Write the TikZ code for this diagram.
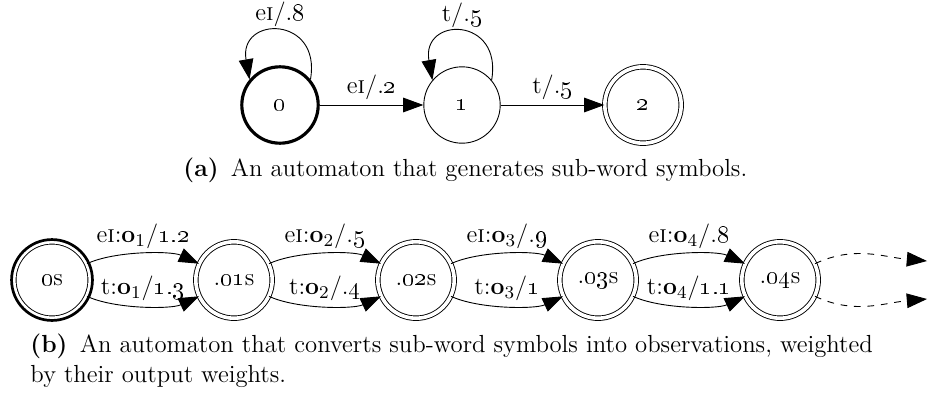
\documentclass[tikz,border=0pt]{standalone}
\usetikzlibrary{arrows.meta}
\begin{document}
\begin{tikzpicture}[x=0.445pt,y=0.445pt,font=\fontsize{11}{13}\selectfont]
        \tikzset{state node/.style={circle,draw=black, fill=none, minimum size=34pt, inner sep=0pt},
          accept node/.style={state node, double, double distance=1.6pt},
          trans/.style={-{Triangle[length=9pt,width=6.5pt]}},
          lbl/.style={above, inner sep=2pt}}
        \useasboundingbox (0,0) rectangle (934,400);
        % sub-word automaton
        \node[state node, line width=1.4pt] (q0) at (280,295) {\oldstylenums{0}};
        \node[state node] (q1) at (462,295) {\oldstylenums{1}};
        \node[accept node] (q2) at (643,295) {\oldstylenums{2}};
        \draw[trans] (q0.40) .. controls +(80:65) and +(100:65) .. node[lbl] {e\textsc{i}/.\oldstylenums{8}} (q0.140);
        \draw[trans] (q1.40) .. controls +(80:65) and +(100:65) .. node[lbl] {t/.\oldstylenums{5}} (q1.140);
        \draw[trans] (q0) -- node[lbl] {e\textsc{i}/.\oldstylenums{2}} (q1);
        \draw[trans] (q1) -- node[lbl] {t/.\oldstylenums{5}} (q2);
        \node[anchor=west, inner sep=0pt] (capa) at (183,230) {\textbf{(a)}\enspace An automaton that generates sub-word symbols.};
        % observation automaton
        \node[accept node] (s0) at (52,120) {\oldstylenums{0}s};
        \draw[line width=1.2pt] (s0.center) circle (18pt);
        \node[accept node] (s1) at (234,120) {.\oldstylenums{01}s};
        \node[accept node] (s2) at (416,120) {.\oldstylenums{02}s};
        \node[accept node] (s3) at (598,120) {.\oldstylenums{03}s};
        \node[accept node] (s4) at (780,120) {.\oldstylenums{04}s};
        \draw[trans] (s0) to[out=25, in=155, looseness=0.7] node[lbl] {e\textsc{i}:\textbf{o}$_1$/\oldstylenums{1.2}} (s1);
        \draw[trans] (s0) to[out=-25, in=-155, looseness=0.7] node[lbl] {t:\textbf{o}$_1$/\oldstylenums{1.3}} (s1);
        \draw[trans] (s1) to[out=25, in=155, looseness=0.7] node[lbl] {e\textsc{i}:\textbf{o}$_2$/.\oldstylenums{5}} (s2);
        \draw[trans] (s1) to[out=-25, in=-155, looseness=0.7] node[lbl] {t:\textbf{o}$_2$/.\oldstylenums{4}} (s2);
        \draw[trans] (s2) to[out=25, in=155, looseness=0.7] node[lbl] {e\textsc{i}:\textbf{o}$_3$/.\oldstylenums{9}} (s3);
        \draw[trans] (s2) to[out=-25, in=-155, looseness=0.7] node[lbl] {t:\textbf{o}$_3$/\oldstylenums{1}} (s3);
        \draw[trans] (s3) to[out=25, in=155, looseness=0.7] node[lbl] {e\textsc{i}:\textbf{o}$_4$/.\oldstylenums{8}} (s4);
        \draw[trans] (s3) to[out=-25, in=-155, looseness=0.7] node[lbl] {t:\textbf{o}$_4$/\oldstylenums{1.1}} (s4);
        \coordinate (out1) at (927,139);
        \coordinate (out2) at (927,101);
        \draw[trans, dashed] (s4) to[out=25, in=175] (out1);
        \draw[trans, dashed] (s4) to[out=-25, in=-175] (out2);
        \node[anchor=north west, align=left, inner sep=0pt] (capb) at (30,66) {\textbf{(b)}\enspace An automaton that converts sub-word symbols into observations, weighted\\by their output weights.};
      \end{tikzpicture}
\end{document}
